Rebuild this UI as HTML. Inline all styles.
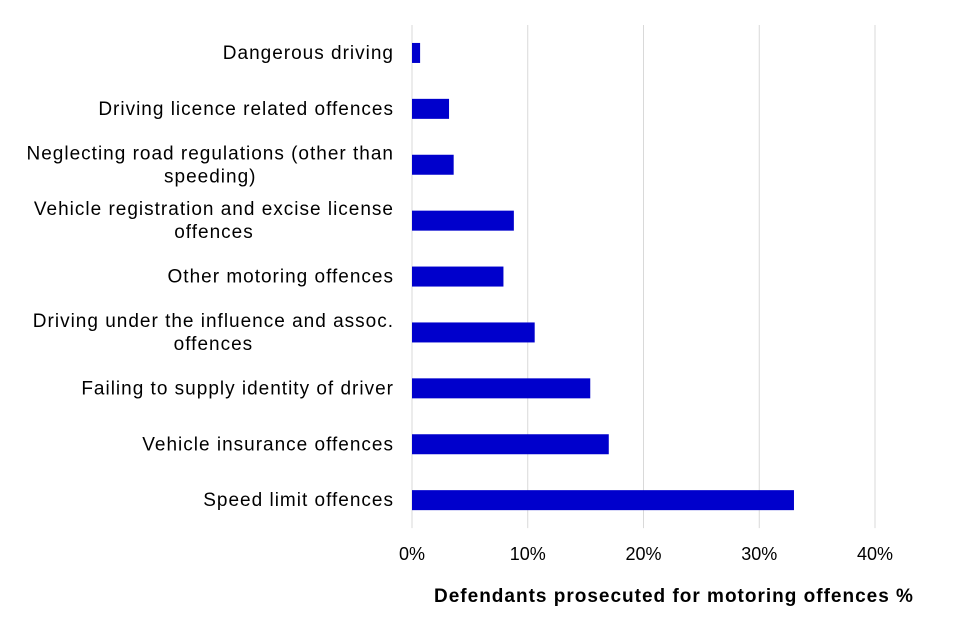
<!DOCTYPE html>
<html><head><meta charset="utf-8"><style>
body{margin:0;background:#fff;}
svg{display:block;font-family:"Liberation Sans",Arial,sans-serif;}
</style></head><body>
<svg id="chart" width="960" height="640"></svg>
<script>
const categories=[["Dangerous driving"],["Driving licence related offences"],["Neglecting road regulations (other than","speeding)"],["Vehicle registration and excise license","offences"],["Other motoring offences"],["Driving under the influence and assoc.","offences"],["Failing to supply identity of driver"],["Vehicle insurance offences"],["Speed limit offences"]];
const values=[0.7,3.2,3.6,8.8,7.9,10.6,15.4,17.0,33.0];
const ticks=[0,10,20,30,40];
const tickLabels=["0%","10%","20%","30%","40%"];
const NS="http://www.w3.org/2000/svg";
const svgEl=document.getElementById('chart');
const x0=412,pxPer=11.575,plotTop=25,band=55.9,barH=20;
const xs=v=>x0+v*pxPer;
const yc=i=>plotTop+band*(i+0.5);
function mk(t,a){const e=document.createElementNS(NS,t);for(const k in a)e.setAttribute(k,a[k]);svgEl.appendChild(e);return e;}
ticks.forEach((t,i)=>{
 if(t>0){const g=mk('line',{x1:xs(t),x2:xs(t),y1:plotTop,y2:plotTop+band*9,stroke:'#d9d9d9','stroke-width':1});
 
 }
 const tl=mk('text',{x:xs(t),y:560,'text-anchor':'middle','font-size':18,fill:'#000'});
 tl.textContent=tickLabels[i];
 
 
});
const ax=mk('line',{x1:x0,x2:x0,y1:plotTop,y2:plotTop+band*9,stroke:'#d9d9d9','stroke-width':1});


values.forEach((v,i)=>{
 const r=mk('rect',{x:x0,y:yc(i)-barH/2,width:xs(v)-x0,height:barH,fill:'#0000cc'});
 
 
 const lines=categories[i];
 const t=mk('text',{'text-anchor':'end','font-size':19,'letter-spacing':1,fill:'#000'});
 
 
 lines.forEach((ln,j)=>{
  const ts=document.createElementNS(NS,'tspan');
  ts.setAttribute('x',394);
  ts.setAttribute('y',yc(i)+6+(j-(lines.length-1)/2)*23);
  ts.textContent=ln;t.appendChild(ts);
 });
 if(lines.length>1){
  try{
   const b1=t.childNodes[0].getComputedTextLength();
   const b2=t.childNodes[1].getComputedTextLength();
   t.childNodes[1].setAttribute('x',394-(b1-b2)/2);
  }catch(e){}
 }
});
const title=mk('text',{x:674,y:602,'text-anchor':'middle','font-size':19,'letter-spacing':1,'font-weight':'bold',fill:'#000'});
title.textContent='Defendants prosecuted for motoring offences %';


</script>
</body></html>
